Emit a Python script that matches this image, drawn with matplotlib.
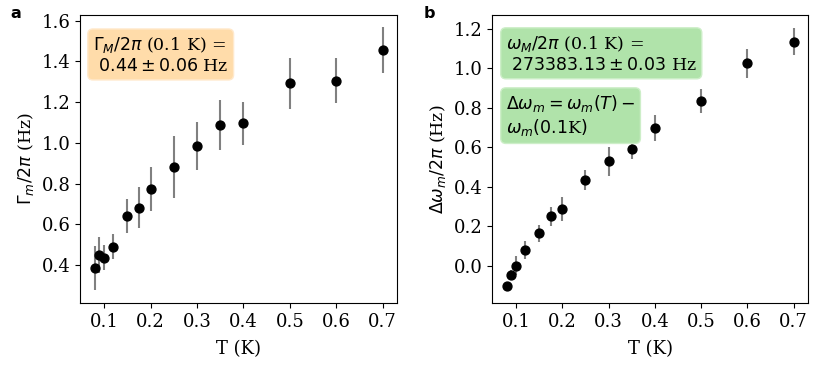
import numpy as np
import matplotlib
matplotlib.use('Agg')
from matplotlib import pyplot as plt

plt.rcParams['font.family'] = 'DejaVu Serif'
plt.rcParams['mathtext.fontset'] = 'dejavusans'
plt.rcParams['font.size'] = 12.5
plt.rcParams['xtick.labelsize'] = 13
plt.rcParams['ytick.labelsize'] = 13

# temperatures [K]
temps = [0.08, 0.09, 0.10, 0.12, 0.15, 0.175, 0.20, 0.25, 0.30, 0.35, 0.40, 0.50, 0.60, 0.70]

# damping rate Gamma_m/2pi [Hz]
gamma = [0.384, 0.449, 0.436, 0.490, 0.641, 0.682, 0.773, 0.881, 0.983, 1.088, 1.095, 1.292, 1.306, 1.456]
gamma_err = [0.107, 0.090, 0.062, 0.062, 0.085, 0.100, 0.110, 0.152, 0.119, 0.123, 0.106, 0.127, 0.110, 0.111]

# frequency shift Delta omega_m/2pi [Hz]
dfreq = [-0.101, -0.047, 0.000, 0.080, 0.164, 0.250, 0.286, 0.435, 0.529, 0.590, 0.697, 0.835, 1.026, 1.136]
dfreq_err = [0.015, 0.025, 0.047, 0.047, 0.042, 0.047, 0.060, 0.049, 0.073, 0.048, 0.066, 0.062, 0.074, 0.068]

xticks = [0.1, 0.2, 0.3, 0.4, 0.5, 0.6, 0.7]

fig = plt.figure(figsize=(8.33, 3.81), dpi=100)
ax1 = fig.add_axes([80/833, 1 - 303/381, 317/833, 288/381])
ax2 = fig.add_axes([492/833, 1 - 303/381, 316/833, 288/381])

err_kw = dict(fmt='o', color='black', ms=6.4, ecolor='gray', elinewidth=1.5, capsize=0)

ax1.errorbar(temps, gamma, yerr=gamma_err, **err_kw)
ax1.set_xlim(0.048, 0.731)
ax1.set_ylim(0.213, 1.628)
ax1.set_yticks([0.4, 0.6, 0.8, 1.0, 1.2, 1.4, 1.6])
ax1.set_xticks(xticks)
ax1.set_xlabel('T (K)', labelpad=7, fontsize=13)
ax1.set_ylabel(r'$\Gamma_m/2\pi$ (Hz)')
ax1.text(0.041, 0.93, '$\\Gamma_M/2\\pi$ (0.1 K) =\n $0.44 \\pm 0.06$ Hz',
         transform=ax1.transAxes, va='top', ha='left',
         bbox=dict(boxstyle='round,pad=0.3', facecolor='#ffdcaa', edgecolor='#ffe9cc'))

ax2.errorbar(temps, dfreq, yerr=dfreq_err, **err_kw)
ax2.set_xlim(0.048, 0.731)
ax2.set_ylim(-0.189, 1.271)
ax2.set_yticks([0.0, 0.2, 0.4, 0.6, 0.8, 1.0, 1.2])
ax2.set_xticks(xticks)
ax2.set_xlabel('T (K)', labelpad=7, fontsize=13)
ax2.set_ylabel(r'$\Delta\omega_m/2\pi$ (Hz)')
ax2.text(0.044, 0.934, '$\\omega_M/2\\pi$ (0.1 K) =\n $273383.13 \\pm 0.03$ Hz',
         transform=ax2.transAxes, va='top', ha='left',
         bbox=dict(boxstyle='round,pad=0.3', facecolor='#b0e3aa', edgecolor='#cdeec8'))
ax2.text(0.044, 0.729, '$\\Delta\\omega_m = \\omega_m(T) -$\n$\\omega_m(0.1$K$)$',
         transform=ax2.transAxes, va='top', ha='left',
         bbox=dict(boxstyle='round,pad=0.3', facecolor='#b0e3aa', edgecolor='#cdeec8'))

fig.text(10/833, 1 - 13/381, 'a', family='DejaVu Sans', weight='bold', fontsize=11.5, va='center', ha='left')
fig.text(424/833, 1 - 13/381, 'b', family='DejaVu Sans', weight='bold', fontsize=11.5, va='center', ha='left')

fig.savefig('out.png', dpi=100)
